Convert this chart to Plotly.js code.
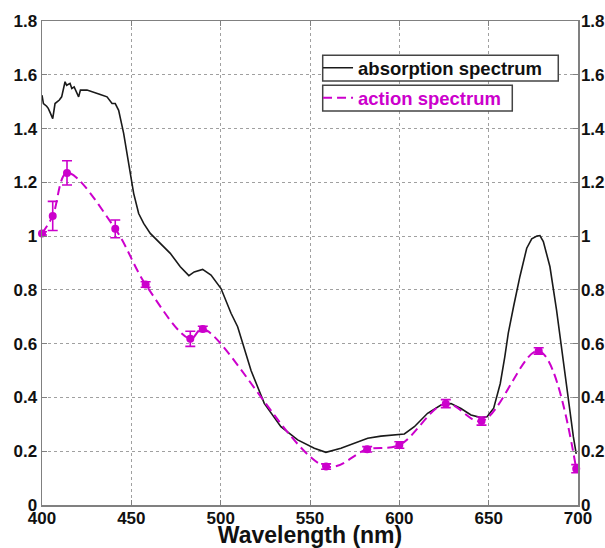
<!DOCTYPE html>
<html>
<head>
<meta charset="utf-8">
<script src="https://cdn.plot.ly/plotly-3.0.1.min.js"></script>
<style>html,body{margin:0;padding:0;background:#fff;}#chart{width:605px;height:548px;}</style>
</head>
<body>
<div id="chart"></div>
<script>
// Absorption spectrum (black line)
const absWavelength = [400, 400.8, 402.6, 403.5, 404.5, 406, 407.3, 409.7, 411, 412.9, 413.8, 415.7, 416.7, 418, 420.5, 421.5, 425.2, 428.9, 432.6, 436.4, 439.2, 441, 442.9, 445.7, 447.6, 449.5, 451.3, 454.1, 456.9, 460.6, 466.2, 471.8, 477.4, 482.2, 485.2, 489.9, 494.6, 500.2, 505.8, 509.5, 517, 524.4, 533.7, 543.1, 552.4, 558.9, 567.3, 574.8, 582.3, 589.7, 597.2, 602.8, 608.4, 615.8, 623.3, 628.9, 634.5, 640.1, 645.7, 649.1, 652.8, 656.5, 659, 661, 664, 667.5, 671.3, 674.1, 677, 678.7, 680.6, 684.3, 688, 691.8, 694.6, 697.4, 699];
const absValue = [1.524, 1.493, 1.483, 1.475, 1.46, 1.437, 1.493, 1.506, 1.518, 1.574, 1.561, 1.568, 1.549, 1.555, 1.518, 1.543, 1.543, 1.536, 1.527, 1.518, 1.493, 1.493, 1.468, 1.382, 1.307, 1.233, 1.159, 1.084, 1.047, 1.010, 0.973, 0.936, 0.886, 0.853, 0.867, 0.876, 0.855, 0.805, 0.713, 0.663, 0.50, 0.378, 0.291, 0.242, 0.211, 0.196, 0.211, 0.229, 0.248, 0.256, 0.260, 0.264, 0.291, 0.341, 0.372, 0.377, 0.359, 0.335, 0.325, 0.328, 0.36, 0.452, 0.55, 0.64, 0.74, 0.85, 0.955, 0.99, 1.0, 1.002, 0.98, 0.886, 0.725, 0.527, 0.378, 0.254, 0.19];

// Action spectrum (magenta dashed, with error bars)
const actWavelength = [400, 406, 414, 441, 458, 483, 490, 559, 582, 600, 626, 646, 678, 699];
const actValue = [1.01, 1.075, 1.235, 1.027, 0.82, 0.618, 0.655, 0.143, 0.207, 0.223, 0.377, 0.312, 0.573, 0.135];
const actError = [0.006, 0.054, 0.045, 0.033, 0.01, 0.028, 0.01, 0.01, 0.01, 0.012, 0.015, 0.015, 0.012, 0.015];

const xTicks = [400, 450, 500, 550, 600, 650, 700];
const yTicks = [0, 0.2, 0.4, 0.6, 0.8, 1, 1.2, 1.4, 1.6, 1.8];
const seriesNames = ['absorption spectrum', 'action spectrum'];

const MAG = '#cc00cc';
const FONT = 'Liberation Sans, Arial, sans-serif';
const bold = s => '<b>' + s + '</b>';

const traces = [
  {
    x: absWavelength, y: absValue, name: bold(seriesNames[0]), type: 'scatter', mode: 'lines',
    line: {color: '#1a1a1a', width: 1.6}, legend: 'legend', hoverinfo: 'skip'
  },
  {
    x: actWavelength, y: actValue, name: bold(seriesNames[1]), type: 'scatter', mode: 'lines',
    line: {color: MAG, width: 2, dash: '9px,5px', shape: 'spline', smoothing: 1},
    cliponaxis: false, legend: 'legend2', hoverinfo: 'skip'
  },
  {
    x: actWavelength, y: actValue, name: seriesNames[1], type: 'scatter', mode: 'markers',
    marker: {color: MAG, size: 8, symbol: 'circle'},
    error_y: {type: 'data', array: actError, visible: true, color: MAG, thickness: 1.6, width: 5},
    cliponaxis: false, showlegend: false, hoverinfo: 'skip'
  },
  {
    x: absWavelength, y: absValue, yaxis: 'y2', type: 'scatter', mode: 'lines',
    line: {color: 'rgba(0,0,0,0)', width: 0}, showlegend: false, hoverinfo: 'skip'
  }
];

const axisCommon = {
  showline: true, linecolor: '#808080', linewidth: 1.5,
  ticks: 'inside', ticklen: 5, tickcolor: '#808080', tickwidth: 1,
  tickfont: {family: FONT, size: 17, color: '#111'},
  zeroline: false
};

const boxStyle = {type: 'rect', xref: 'paper', yref: 'paper', layer: 'above',
  fillcolor: '#ffffff', line: {color: '#444', width: 1.5}};

const layout = {
  width: 605, height: 548,
  margin: {l: 42, r: 27, t: 21, b: 43},
  paper_bgcolor: '#ffffff', plot_bgcolor: '#ffffff',
  showlegend: true,
  xaxis: Object.assign({}, axisCommon, {
    range: [400, 700], tickvals: xTicks, ticktext: xTicks.map(v => bold(String(v))),
    mirror: 'ticks', ticklabelstandoff: -3,
    showgrid: true, gridcolor: '#a0a0a0', griddash: 'dot', gridwidth: 1,
    title: {text: bold('Wavelength (nm)'), font: {family: FONT, size: 23, color: '#111'}, standoff: 0}
  }),
  yaxis: Object.assign({}, axisCommon, {
    range: [0, 1.8], tickvals: yTicks, ticktext: yTicks.map(v => bold(String(v))),
    mirror: 'ticks',
    showgrid: true, gridcolor: '#a0a0a0', griddash: 'dot', gridwidth: 1
  }),
  yaxis2: Object.assign({}, axisCommon, {
    overlaying: 'y', side: 'right', range: [0, 1.8], ticklabelstandoff: -2,
    tickvals: yTicks, ticktext: yTicks.map(v => bold(String(v))), showgrid: false
  }),
  shapes: [
    Object.assign({x0: 0.5237, x1: 0.9632, y0: 0.8761, y1: 0.9292}, boxStyle),
    Object.assign({x0: 0.5237, x1: 0.8774, y0: 0.8142, y1: 0.8672}, boxStyle)
  ],
  legend: {
    x: 0.515, y: 0.9416, xanchor: 'left', yanchor: 'top',
    bgcolor: 'rgba(0,0,0,0)', borderwidth: 0,
    font: {family: FONT, size: 18.5, color: '#111'}
  },
  legend2: {
    x: 0.515, y: 0.8796, xanchor: 'left', yanchor: 'top',
    bgcolor: 'rgba(0,0,0,0)', borderwidth: 0,
    font: {family: FONT, size: 18.5, color: MAG}
  }
};

Plotly.newPlot('chart', traces, layout, {staticPlot: true, displayModeBar: false});
</script>
</body>
</html>
